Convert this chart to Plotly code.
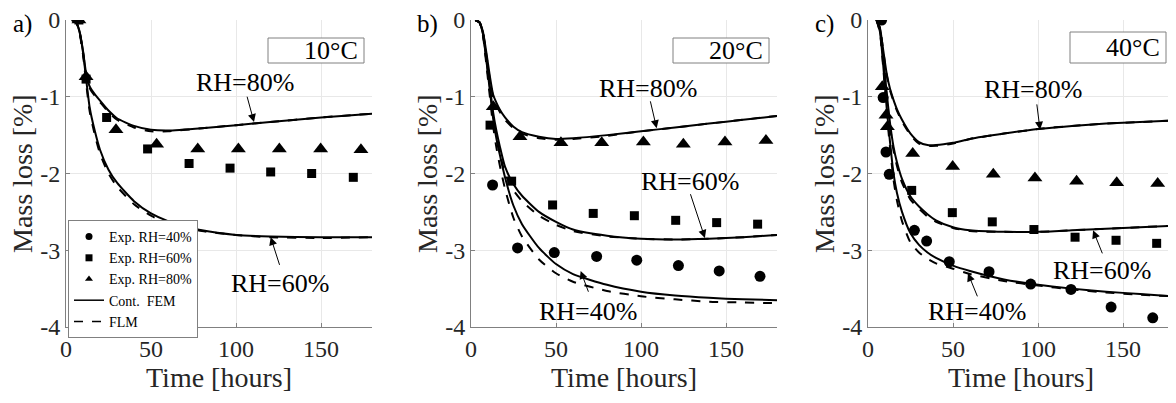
import plotly.graph_objects as go
from plotly.subplots import make_subplots

# ---- data ----
x_ticks = [0, 50, 100, 150]
y_ticks = [0, -1, -2, -3, -4]
y_tick_labels = ["0", "-1", "-2", "-3", "-4"]
panel_tags = ["a)", "b)", "c)"]
temps = ["10°C", "20°C", "40°C"]

# panel a, 10°C
a_t = [3.5, 6, 8, 10, 12, 14, 17, 20, 25, 30, 40, 50, 60, 80, 100, 120, 150, 180]
a80_fem = [0, -0.03, -0.15, -0.4, -0.72, -0.87, -0.97, -1.05, -1.18, -1.28, -1.38, -1.43, -1.44, -1.41, -1.37, -1.33, -1.27, -1.22]
a80_flm = [0, -0.03, -0.16, -0.42, -0.74, -0.89, -0.99, -1.07, -1.2, -1.3, -1.4, -1.45, -1.45, -1.41, -1.37, -1.33, -1.27, -1.22]
a60_fem = [0, -0.03, -0.16, -0.42, -0.8, -1.15, -1.45, -1.69, -1.95, -2.12, -2.36, -2.52, -2.62, -2.74, -2.8, -2.82, -2.83, -2.83]
a60_flm = [0, -0.03, -0.17, -0.45, -0.85, -1.2, -1.5, -1.74, -2.0, -2.17, -2.4, -2.55, -2.65, -2.75, -2.8, -2.83, -2.84, -2.83]
a80_exp_t = [7.6, 11.8, 29.4, 53.3, 77.5, 101.4, 125.5, 149.8, 173.5]
a80_exp = [0, -0.74, -1.43, -1.62, -1.68, -1.68, -1.68, -1.68, -1.69]
a60_exp_t = [7.6, 11.8, 23.9, 48, 72.4, 96.5, 120.4, 144.5, 169]
a60_exp = [0, -0.77, -1.27, -1.68, -1.87, -1.93, -1.98, -2.0, -2.05]

# panel b, 20°C
b_t = [2.5, 5, 7, 9, 11, 13, 15, 17, 20, 25, 30, 40, 50, 60, 80, 100, 120, 140, 160, 180]
b80_fem = [0, -0.03, -0.15, -0.42, -0.72, -0.97, -1.08, -1.17, -1.27, -1.39, -1.46, -1.52, -1.55, -1.54, -1.5, -1.45, -1.4, -1.35, -1.3, -1.25]
b80_flm = [0, -0.03, -0.16, -0.45, -0.76, -1.0, -1.11, -1.2, -1.3, -1.41, -1.48, -1.54, -1.56, -1.55, -1.51, -1.45, -1.4, -1.35, -1.3, -1.25]
b60_fem = [0, -0.03, -0.17, -0.5, -0.85, -1.2, -1.45, -1.65, -1.91, -2.14, -2.29, -2.5, -2.63, -2.73, -2.81, -2.85, -2.86, -2.85, -2.83, -2.8]
b60_flm = [0, -0.03, -0.18, -0.53, -0.9, -1.27, -1.53, -1.74, -2.0, -2.22, -2.36, -2.55, -2.67, -2.75, -2.82, -2.85, -2.86, -2.85, -2.83, -2.8]
b40_fem = [0, -0.03, -0.18, -0.52, -0.9, -1.28, -1.55, -1.76, -2.05, -2.42, -2.66, -2.97, -3.18, -3.31, -3.45, -3.54, -3.59, -3.62, -3.64, -3.65]
b40_flm = [0, -0.03, -0.2, -0.57, -0.98, -1.38, -1.67, -1.9, -2.2, -2.58, -2.82, -3.12, -3.3, -3.41, -3.53, -3.6, -3.64, -3.67, -3.68, -3.69]
b80_exp_t = [13.1, 28.8, 52.9, 76.9, 101.4, 124.9, 149.4, 173.5]
b80_exp = [-1.13, -1.52, -1.6, -1.6, -1.59, -1.62, -1.59, -1.57]
b60_exp_t = [11.2, 23.9, 48.0, 71.9, 96.1, 120.4, 144.5, 168.6]
b60_exp = [-1.37, -2.1, -2.41, -2.52, -2.55, -2.61, -2.64, -2.66]
b40_exp_t = [12.7, 27.4, 49.0, 73.9, 97.5, 122.0, 146.0, 170.0]
b40_exp = [-2.15, -2.97, -3.03, -3.08, -3.13, -3.2, -3.27, -3.34]

# panel c, 40°C
c_t = [5, 7, 9, 11, 13, 15, 17, 20, 25, 30, 35, 40, 50, 60, 80, 100, 120, 140, 160, 180]
c80_fem = [0, -0.1, -0.4, -0.7, -0.9, -1.04, -1.16, -1.3, -1.48, -1.59, -1.63, -1.63, -1.6, -1.55, -1.48, -1.42, -1.38, -1.35, -1.33, -1.31]
c80_flm = [0, -0.1, -0.41, -0.72, -0.92, -1.06, -1.18, -1.32, -1.5, -1.61, -1.64, -1.64, -1.61, -1.55, -1.48, -1.42, -1.38, -1.35, -1.33, -1.31]
c60_fem = [0, -0.12, -0.5, -0.95, -1.35, -1.65, -1.85, -2.07, -2.3, -2.43, -2.53, -2.61, -2.7, -2.74, -2.76, -2.76, -2.74, -2.72, -2.7, -2.68]
c60_flm = [0, -0.13, -0.53, -1.0, -1.4, -1.7, -1.9, -2.12, -2.34, -2.46, -2.56, -2.63, -2.71, -2.75, -2.76, -2.76, -2.74, -2.72, -2.7, -2.68]
c40_fem = [0, -0.15, -0.6, -1.15, -1.6, -2.0, -2.25, -2.5, -2.78, -2.93, -3.03, -3.1, -3.2, -3.27, -3.38, -3.45, -3.5, -3.54, -3.57, -3.6]
c40_flm = [0, -0.16, -0.63, -1.2, -1.67, -2.08, -2.35, -2.62, -2.9, -3.03, -3.11, -3.17, -3.24, -3.31, -3.4, -3.46, -3.51, -3.55, -3.58, -3.6]
c80_exp_t = [8.4, 10.6, 11.4, 26.3, 49.8, 73.7, 98.2, 122.7, 146.3, 170.4]
c80_exp = [-0.87, -1.24, -1.39, -1.74, -1.91, -2.01, -2.06, -2.1, -2.12, -2.13]
c60_exp_t = [25.7, 49.6, 73.1, 97.6, 121.8, 145.9, 169.8]
c60_exp = [-2.22, -2.51, -2.63, -2.73, -2.83, -2.87, -2.91]
c40_exp_t = [8, 8.9, 10.6, 12.5, 27.3, 34.5, 47.8, 71.2, 95.7, 119.4, 143, 167.5]
c40_exp = [0, -1.01, -1.72, -2.01, -2.74, -2.88, -3.15, -3.28, -3.44, -3.51, -3.74, -3.88]

FONT = "Liberation Serif"
INK = "#262626"
# the page puts the figure 8px in from the top-left corner
OFF = 8
W, H = 1176 - OFF, 403 - OFF

def px(x):
    return (x - OFF) / W

def py(y):
    return 1 - (y - OFF) / H

fig = make_subplots(rows=1, cols=3)

def curve(t, v, col, dash):
    fig.add_trace(go.Scatter(x=t, y=v, mode="lines", showlegend=False,
                             line=dict(color="black", width=2, dash=dash,
                                       shape="spline", smoothing=0.6)),
                  row=1, col=col)

def points(t, v, col, symbol, size):
    fig.add_trace(go.Scatter(x=t, y=v, mode="markers", showlegend=False,
                             marker=dict(color="black", symbol=symbol, size=size)),
                  row=1, col=col)

# model curves (dashed FLM first, solid FEM on top)
for col, t, pairs in [
    (1, a_t, [(a80_fem, a80_flm), (a60_fem, a60_flm)]),
    (2, b_t, [(b80_fem, b80_flm), (b60_fem, b60_flm), (b40_fem, b40_flm)]),
    (3, c_t, [(c80_fem, c80_flm), (c60_fem, c60_flm), (c40_fem, c40_flm)]),
]:
    for fem, flm in pairs:
        curve(t, flm, col, "dash")
        curve(t, fem, col, "solid")

# experiments
points(a80_exp_t, a80_exp, 1, "triangle-up", 13)
points(a60_exp_t, a60_exp, 1, "square", 9)
points(b80_exp_t, b80_exp, 2, "triangle-up", 13)
points(b60_exp_t, b60_exp, 2, "square", 9)
points(b40_exp_t, b40_exp, 2, "circle", 11)
points(c80_exp_t, c80_exp, 3, "triangle-up", 13)
points(c60_exp_t, c60_exp, 3, "square", 9)
points(c40_exp_t, c40_exp, 3, "circle", 11)

# legend entries (panel a)
for name, sym in [("Exp. RH=40%", "circle"), ("Exp. RH=60%", "square"), ("Exp. RH=80%", "triangle-up")]:
    fig.add_trace(go.Scatter(x=[None], y=[None], mode="markers", name=name,
                             marker=dict(color="black", symbol=sym, size=7)), row=1, col=1)
fig.add_trace(go.Scatter(x=[None], y=[None], mode="lines", name="Cont.  FEM",
                         line=dict(color="black", width=1.5)), row=1, col=1)
fig.add_trace(go.Scatter(x=[None], y=[None], mode="lines", name="FLM",
                         line=dict(color="black", width=1.5, dash="dash")), row=1, col=1)

# panel geometry in reference pixels
left = [66, 471, 868]
pw = 306
top, bottom = 20, 327

axis_style = dict(showline=True, linecolor="#808080", linewidth=1, mirror=False,
                  showgrid=True, gridcolor="#e8e8e8", zeroline=False,
                  ticks="inside", ticklen=4, tickcolor="#808080", automargin=False,
                  ticklabeloverflow="allow",
                  tickfont=dict(family=FONT, size=24, color=INK))

for i in range(3):
    xa = "xaxis" if i == 0 else f"xaxis{i + 1}"
    ya = "yaxis" if i == 0 else f"yaxis{i + 1}"
    fig.layout[xa].update(domain=[px(left[i]), px(left[i] + pw)], range=[0, 180],
                          tickvals=x_ticks, **axis_style)
    fig.layout[ya].update(domain=[py(bottom), py(top)], range=[-4, 0],
                          tickvals=y_ticks, ticktext=y_tick_labels, **axis_style)

def label(text, x, y, size, color, angle=0, xanchor="center", yanchor="middle"):
    return dict(text=text, xref="paper", yref="paper", x=px(x), y=py(y),
                xanchor=xanchor, yanchor=yanchor, textangle=angle, showarrow=False,
                font=dict(family=FONT, size=size, color=color))

annotations = []
shapes = []
for i in range(3):
    L = left[i]
    annotations.append(label("Time [hours]", L + pw / 2, 377, 28, INK))
    annotations.append(label("Mass loss [%]", L - 44, 174, 28, INK, angle=-90))
    annotations.append(label(panel_tags[i], L - 44, OFF, 25, "black", yanchor="top"))
    # temperature box
    bx0, bx1 = L + 202, L + 298
    by0, by1 = (38, 63) if i < 2 else (32, 63)
    shapes.append(dict(type="rect", xref="paper", yref="paper",
                       x0=px(bx0), x1=px(bx1), y0=py(by1), y1=py(by0),
                       line=dict(color="#808080", width=1), fillcolor="white"))
    annotations.append(label(temps[i], bx1 - 4, (by0 + by1) / 2, 26, "black", xanchor="right"))

# RH labels with arrows (data coords: label, tail, head)
rh_labels = [
    (1, "RH=80%", (105.3, -0.81), (106.3, -0.98), (110.6, -1.33)),
    (1, "RH=60%", (125.9, -3.43), (125.9, -3.21), (120.4, -2.83)),
    (2, "RH=80%", (104.1, -0.89), (105.3, -1.04), (109.2, -1.41)),
    (2, "RH=60%", (128.8, -2.11), (128.8, -2.25), (137.6, -2.84)),
    (2, "RH=40%", (68.8, -3.80), (69.4, -3.56), (64.5, -3.27)),
    (3, "RH=80%", (97.1, -0.91), (99.2, -1.08), (101.2, -1.43)),
    (3, "RH=60%", (137.6, -3.26), (138.2, -3.06), (132.4, -2.74)),
    (3, "RH=40%", (64.1, -3.80), (64.7, -3.62), (58.8, -3.30)),
]
for col, txt, pos, tail, head in rh_labels:
    xr = "x" if col == 1 else f"x{col}"
    yr = "y" if col == 1 else f"y{col}"
    annotations.append(dict(text=txt, xref=xr, yref=yr, x=pos[0], y=pos[1],
                            xanchor="center", yanchor="middle",
                            showarrow=False, font=dict(family=FONT, size=26, color="black")))
    annotations.append(dict(text="", xref=xr, yref=yr, x=head[0], y=head[1],
                            axref=xr, ayref=yr, ax=tail[0], ay=tail[1],
                            showarrow=True, arrowhead=2, arrowsize=1.6, arrowwidth=1,
                            arrowcolor="black"))

fig.update_layout(
    width=W, height=H,
    margin=dict(l=0, r=0, t=0, b=0, autoexpand=False),
    plot_bgcolor="white", paper_bgcolor="white",
    font=dict(family=FONT, color=INK),
    annotations=annotations, shapes=shapes,
    showlegend=True,
    legend=dict(x=px(68), y=py(220), xanchor="left", yanchor="top",
                bgcolor="white", bordercolor="#808080", borderwidth=1,
                font=dict(family=FONT, size=14, color="black"),
                tracegroupgap=0, itemwidth=30),
)

fig.write_html("out.html")
